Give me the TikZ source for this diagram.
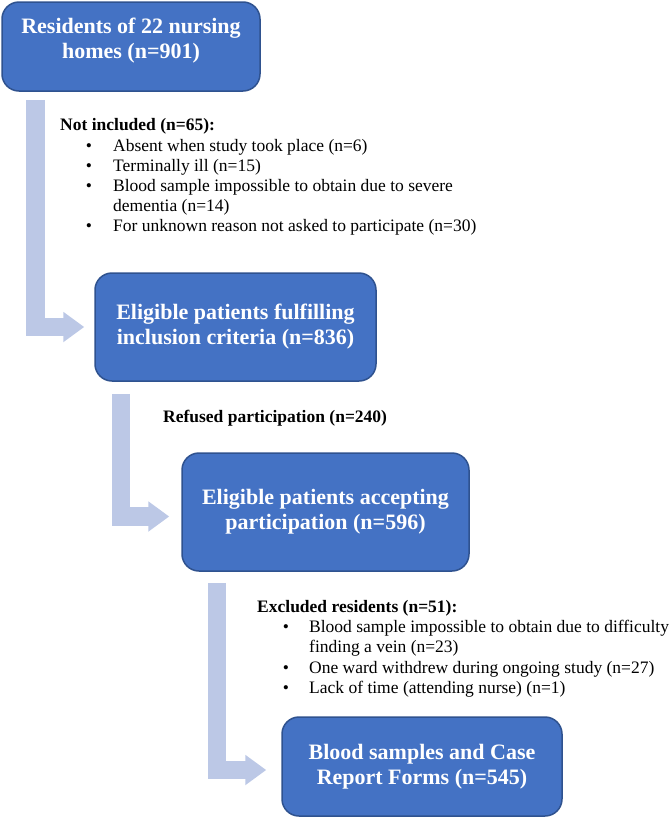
\documentclass[tikz,border=0pt]{standalone}
\usepackage{fontspec}
\setmainfont{Liberation Serif}
\usetikzlibrary{arrows.meta}
\definecolor{boxfill}{HTML}{4472C4}
\definecolor{boxline}{HTML}{2F528F}
\definecolor{arrowfill}{RGB}{188,200,230}
\tikzset{
  box/.style={draw=boxline, line width=1.5pt, fill=boxfill, rounded corners=17pt,
    text=white, align=center, inner sep=0pt,
    font=\fontsize{22}{25}\selectfont\bfseries},
  boxtext/.style={text=white, align=center, inner sep=0pt,
    font=\fontsize{22}{25}\selectfont\bfseries},
  flowarrow/.style={draw=arrowfill, line width=18.5pt, line join=miter,
    -{Triangle[length=21pt,width=29pt]}},
  head/.style={anchor=base west, inner sep=0pt, font=\fontsize{17.5}{20}\selectfont\bfseries},
  item/.style={anchor=base west, inner sep=0pt, font=\fontsize{17.5}{20}\selectfont},
  bul/.style={anchor=base, inner sep=0pt, font=\fontsize{17.5}{20}\selectfont}
}
\begin{document}
\begin{tikzpicture}[x=1pt,y=-1pt]
\useasboundingbox (0,0) rectangle (669,817);
% boxes
\node[box, minimum width=258pt, minimum height=89pt] (b1) at (131,46.5) {};
\node[boxtext] (b1t) at ([yshift=6pt]b1.center) {Residents of 22 nursing\\homes (n=901)};
\node[box, minimum width=281pt, minimum height=108pt] (b2) at (235.5,327) {Eligible patients fulfilling\\inclusion criteria (n=836)};
\node[box, minimum width=287pt, minimum height=118pt] (b3) at (325.5,512) {Eligible patients accepting\\participation (n=596)};
\node[box, minimum width=280pt, minimum height=99pt] (b4) at (422,766.5) {Blood samples and Case\\Report Forms (n=545)};
% arrows
\draw[flowarrow] ([xshift=34pt,yshift=-8pt]b1.south west) |- ([xshift=-10pt]b2.west);
\draw[flowarrow] ([xshift=26.5pt,yshift=-12pt]b2.south west) |- ([xshift=-12pt,yshift=-4.5pt]b3.west);
\draw[flowarrow] ([xshift=35.5pt,yshift=-11pt]b3.south west) |- ([xshift=-15pt,yshift=-3.5pt]b4.west);
% not included
\node[head] (h1) at (60,130) {Not included (n=65):};
\node[bul] (p1) at (89,151) {\textbullet};
\node[item] (t1) at (113,151) {Absent when study took place (n=6)};
\node[bul] (p2) at (89,171.5) {\textbullet};
\node[item] (t2) at (113,171.5) {Terminally ill (n=15)};
\node[bul] (p3) at (89,191.5) {\textbullet};
\node[item] (t3) at (113,191.5) {Blood sample impossible to obtain due to severe};
\node[item] (t3b) at (113,211.5) {dementia (n=14)};
\node[bul] (p4) at (89,231.5) {\textbullet};
\node[item] (t4) at (113,231.5) {For unknown reason not asked to participate (n=30)};
% refused
\node[head] (h2) at (163,422) {Refused participation (n=240)};
% excluded
\node[head] (h3) at (257,612) {Excluded residents (n=51):};
\node[bul] (q1) at (286,632) {\textbullet};
\node[item] (e1) at (309,632) {Blood sample impossible to obtain due to difficulty};
\node[item] (e1b) at (309,652.5) {finding a vein (n=23)};
\node[bul] (q2) at (286,673) {\textbullet};
\node[item] (e2) at (309,673) {One ward withdrew during ongoing study (n=27)};
\node[bul] (q3) at (286,693) {\textbullet};
\node[item] (e3) at (309,693) {Lack of time (attending nurse) (n=1)};
\end{tikzpicture}
\end{document}
